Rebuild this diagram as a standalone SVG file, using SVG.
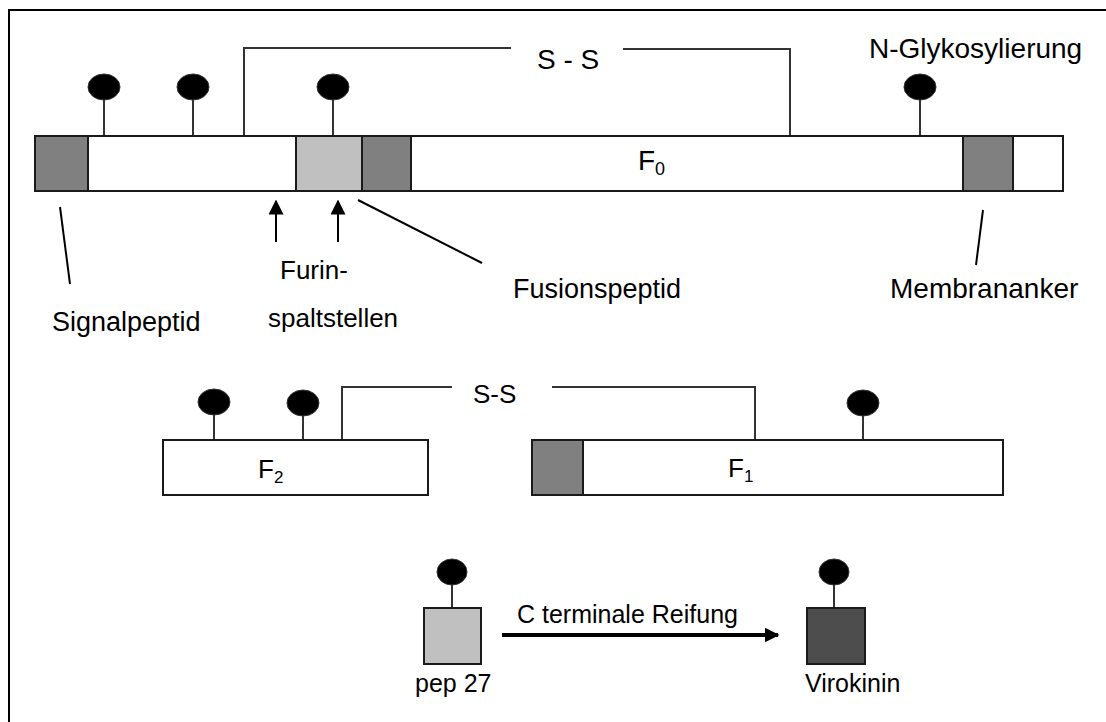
<svg xmlns="http://www.w3.org/2000/svg" width="1106" height="722" viewBox="0 0 1106 722">
<defs>
<style>
text{font-family:"Liberation Sans",Arial,sans-serif;fill:#000}
.box{stroke:#1a1a1a;stroke-width:2}
.w{fill:#fff}.d{fill:#808080}.l{fill:#c0c0c0}.v{fill:#4d4d4d}
.ln{stroke:#333;stroke-width:2;fill:none}
.pin{fill:#000;stroke:#333;stroke-width:1}
.lbl{font-size:27px}
</style>
<marker id="ah" viewBox="0 0 10 10" refX="9" refY="5" markerWidth="15" markerHeight="15" markerUnits="userSpaceOnUse" orient="auto">
<path d="M0,0 L10,5 L0,10 z" fill="#000"/>
</marker>
<marker id="ah2" viewBox="0 0 10 10" refX="9" refY="5" markerWidth="15" markerHeight="15" markerUnits="userSpaceOnUse" orient="auto">
<path d="M0,0 L10,5 L0,10 z" fill="#000"/>
</marker>
</defs>
<rect x="0" y="0" width="1106" height="722" fill="#fff"/>
<rect x="9" y="10" width="1110" height="730" fill="none" stroke="#000" stroke-width="2"/>

<g id="connectors">
<polyline class="ln" points="244,136 244,48 511,48"/>
<polyline class="ln" points="623,49 790,49 790,136"/>
<polyline class="ln" points="342,440 342,387 452,387"/>
<polyline class="ln" points="552,387 755,387 755,440"/>
<line x1="60" y1="207" x2="70" y2="284" stroke="#000" stroke-width="2"/>
<line x1="358" y1="200" x2="482" y2="263" stroke="#000" stroke-width="2"/>
<line x1="983" y1="210" x2="976" y2="265" stroke="#000" stroke-width="2"/>
<line x1="276" y1="242" x2="276" y2="201" stroke="#000" stroke-width="2" marker-end="url(#ah)"/>
<line x1="338" y1="242" x2="338" y2="201" stroke="#000" stroke-width="2" marker-end="url(#ah)"/>
<line x1="502" y1="635" x2="778" y2="635" stroke="#000" stroke-width="4" marker-end="url(#ah2)"/>
</g>

<g id="F0">
<line class="ln" x1="104" y1="100" x2="104" y2="136"/>
<ellipse class="pin" cx="104" cy="87" rx="16" ry="13"/>
<line class="ln" x1="193" y1="100" x2="193" y2="136"/>
<ellipse class="pin" cx="193" cy="87" rx="16" ry="13"/>
<line class="ln" x1="333" y1="100" x2="333" y2="136"/>
<ellipse class="pin" cx="333" cy="87" rx="16" ry="13"/>
<line class="ln" x1="920" y1="100" x2="920" y2="136"/>
<ellipse class="pin" cx="920" cy="87" rx="16" ry="13"/>
<rect class="box w" x="35" y="136" width="1028" height="55"/>
<rect class="box d" x="35" y="136" width="53" height="55"/>
<rect class="box l" x="296" y="136" width="66" height="55"/>
<rect class="box d" x="362" y="136" width="49" height="55"/>
<rect class="box d" x="963" y="136" width="50" height="55"/>
<text x="638" y="170" font-size="28">F<tspan font-size="18" dy="5">0</tspan></text>
</g>

<g id="labels-top">
<text x="537" y="69" font-size="28">S - S</text>
<text x="869" y="58" font-size="28">N-Glykosylierung</text>
<text class="lbl" x="52" y="331">Signalpeptid</text>
<text x="280" y="279" font-size="26">Furin-</text>
<text x="268" y="327" font-size="26">spaltstellen</text>
<text class="lbl" x="513" y="298">Fusionspeptid</text>
<text x="890" y="298" font-size="28">Membrananker</text>
</g>

<g id="F2">
<line class="ln" x1="214" y1="414" x2="214" y2="440"/>
<ellipse class="pin" cx="214" cy="402" rx="16" ry="13"/>
<line class="ln" x1="303" y1="415" x2="303" y2="440"/>
<ellipse class="pin" cx="303" cy="403" rx="16" ry="13"/>
<rect class="box w" x="163" y="440" width="265" height="55"/>
<text x="258" y="478" font-size="26">F<tspan font-size="17" dy="5">2</tspan></text>
</g>

<text id="ss-mid" x="473" y="403" font-size="26">S-S</text>

<g id="F1">
<line class="ln" x1="863" y1="415" x2="863" y2="440"/>
<ellipse class="pin" cx="863" cy="403" rx="16" ry="13"/>
<rect class="box w" x="532" y="440" width="471" height="55"/>
<rect class="box d" x="532" y="440" width="51" height="55"/>
<text x="728" y="477" font-size="26">F<tspan font-size="17" dy="5">1</tspan></text>
</g>

<g id="pep27">
<line class="ln" x1="452" y1="584" x2="452" y2="608"/>
<ellipse class="pin" cx="452" cy="572" rx="15" ry="13"/>
<rect class="box l" x="424" y="608" width="57" height="56"/>
<text x="415" y="692" font-size="25">pep 27</text>
</g>

<text id="arrow-label" x="517" y="623" font-size="25">C terminale Reifung</text>

<g id="virokinin">
<line class="ln" x1="834" y1="584" x2="834" y2="608"/>
<ellipse class="pin" cx="834" cy="572" rx="15" ry="13"/>
<rect class="box v" x="807" y="608" width="58" height="56"/>
<text x="805" y="692" font-size="25">Virokinin</text>
</g>
</svg>
